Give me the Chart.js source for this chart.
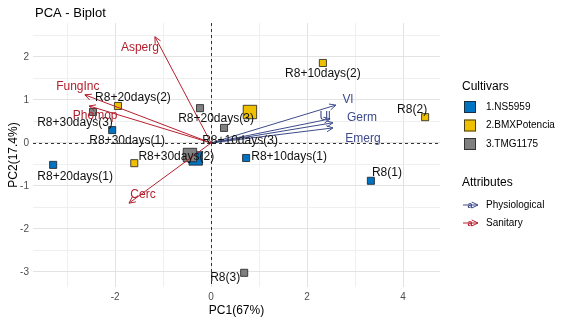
<!DOCTYPE html>
<html>
<head>
<meta charset="utf-8">
<script src="https://cdn.jsdelivr.net/npm/chart.js@4.4.1/dist/chart.umd.min.js"></script>
<style>
  html, body { margin: 0; padding: 0; background: #fff; }
  #wrap { width: 564px; height: 321px; }
</style>
</head>
<body>
<div id="wrap"><canvas id="biplot"></canvas></div>
<script>
// individuals (scores) per cultivar
const cultivars = ['1.NS5959', '2.BMXPotencia', '3.TMG1175'];
const sampleNames = [
  ['R8(1)', 'R8+10days(1)', 'R8+20days(1)', 'R8+30days(1)'],
  ['R8(2)', 'R8+10days(2)', 'R8+20days(2)', 'R8+30days(2)'],
  ['R8(3)', 'R8+10days(3)', 'R8+20days(3)', 'R8+30days(3)']
];
const pc1 = [
  [3.33, 0.73, -3.29, -2.06],
  [4.46, 2.33, -1.94, -1.60],
  [0.69, 0.27, -0.23, -2.46]
];
const pc2 = [
  [-0.88, -0.35, -0.51, 0.30],
  [0.60, 1.86, 0.86, -0.47],
  [-3.02, 0.35, 0.81, 0.72]
];
// group means (big squares)
const centerPC1 = [-0.32, 0.81, -0.44];
const centerPC2 = [-0.36, 0.72, -0.28];

// variables (arrows)
const physVars = ['Vl', 'Ul', 'Germ', 'Emerg'];
const physPC1 = [2.60, 2.48, 2.54, 2.54];
const physPC2 = [0.88, 0.56, 0.47, 0.35];
const sanVars = ['Asperg', 'FungInc', 'Phomop', 'Cerc'];
const sanPC1 = [-1.17, -2.63, -2.54, -1.71];
const sanPC2 = [2.47, 1.12, 0.86, -1.40];

const xTicks = [-3, -2, -1, 0, 1, 2, 3, 4];
const xTickLabels = ['', '-2', '', '0', '', '2', '', '4'];
const yTicks = [-3, -2.5, -2, -1.5, -1, -0.5, 0, 0.5, 1, 1.5, 2, 2.5];
const yTickLabels = ['-3', '', '-2', '', '-1', '', '0', '', '1', '', '2', ''];

// looks
const fillColors = ['#0073C2', '#EFC000', '#808080'];
const physColor = '#3D4B8A';
const sanColor = '#B5202E';
const FONT = '"Liberation Sans", Arial, sans-serif';

// where each text sits relative to its mark (px)
const sampleLabelShift = {
  'R8(1)': [16, -8], 'R8+10days(1)': [43, -1], 'R8+20days(1)': [22, 12], 'R8+30days(1)': [15, 11],
  'R8(2)': [-13, -7], 'R8+10days(2)': [0, 11], 'R8+20days(2)': [15, -8], 'R8+30days(2)': [42, -6],
  'R8(3)': [-19, 5], 'R8+10days(3)': [16, 13], 'R8+20days(3)': [16, 11], 'R8+30days(3)': [-18, 11]
};
const varLabelShift = {
  'Vl': [12, -5], 'Ul': [-5, -2], 'Germ': [29, -5], 'Emerg': [30, 11],
  'Asperg': [-15, 11], 'FungInc': [-7, -8], 'Phomop': [6, 10], 'Cerc': [14, -8]
};

const datasets = [];
cultivars.forEach((name, g) => {
  datasets.push({
    label: name,
    data: pc1[g].map((x, i) => ({ x: x, y: pc2[g][i] })),
    pointStyle: 'rect',
    pointRadius: 5,
    backgroundColor: fillColors[g],
    borderColor: 'rgba(30,30,30,0.8)',
    borderWidth: 1
  });
});
// means: grey first so the blue one sits on top, as in the original
[2, 1, 0].forEach(g => {
  datasets.push({
    label: cultivars[g] + ' mean',
    data: [{ x: centerPC1[g], y: centerPC2[g] }],
    pointStyle: 'rect',
    pointRadius: 9.5,
    backgroundColor: fillColors[g],
    borderColor: 'rgba(30,30,30,0.8)',
    borderWidth: 1
  });
});

function drawArrow(ctx, x0, y0, x1, y1, color) {
  const ang = Math.atan2(y1 - y0, x1 - x0);
  const head = 7;
  ctx.strokeStyle = color;
  ctx.lineWidth = 1;
  ctx.beginPath();
  ctx.moveTo(x0, y0);
  ctx.lineTo(x1, y1);
  ctx.moveTo(x1 - head * Math.cos(ang - 0.45), y1 - head * Math.sin(ang - 0.45));
  ctx.lineTo(x1, y1);
  ctx.lineTo(x1 - head * Math.cos(ang + 0.45), y1 - head * Math.sin(ang + 0.45));
  ctx.stroke();
}

const biplotPlugin = {
  id: 'biplot',
  beforeDatasetsDraw(chart) {
    const { ctx, chartArea: a, scales: { x, y } } = chart;
    ctx.save();
    ctx.strokeStyle = '#333';
    ctx.lineWidth = 1;
    ctx.setLineDash([3, 3]);
    const px = Math.round(x.getPixelForValue(0)) + 0.5;
    const py = Math.round(y.getPixelForValue(0)) + 0.5;
    ctx.beginPath();
    ctx.moveTo(px, a.top); ctx.lineTo(px, a.bottom);
    ctx.moveTo(a.left, py); ctx.lineTo(a.right, py);
    ctx.stroke();
    ctx.restore();
  },
  afterDatasetsDraw(chart) {
    const { ctx, scales: { x, y } } = chart;
    const ox = x.getPixelForValue(0), oy = y.getPixelForValue(0);
    ctx.save();
    ctx.font = '12px ' + FONT;
    ctx.textAlign = 'center';
    ctx.textBaseline = 'middle';

    // arrows
    physVars.forEach((v, i) => {
      drawArrow(ctx, ox, oy, x.getPixelForValue(physPC1[i]), y.getPixelForValue(physPC2[i]), physColor);
    });
    sanVars.forEach((v, i) => {
      drawArrow(ctx, ox, oy, x.getPixelForValue(sanPC1[i]), y.getPixelForValue(sanPC2[i]), sanColor);
    });

    // sample labels
    ctx.fillStyle = '#111';
    sampleNames.forEach((row, g) => {
      row.forEach((nm, i) => {
        const s = sampleLabelShift[nm];
        ctx.fillText(nm, x.getPixelForValue(pc1[g][i]) + s[0], y.getPixelForValue(pc2[g][i]) + s[1]);
      });
    });

    // variable labels
    ctx.fillStyle = physColor;
    physVars.forEach((v, i) => {
      const s = varLabelShift[v];
      ctx.fillText(v, x.getPixelForValue(physPC1[i]) + s[0], y.getPixelForValue(physPC2[i]) + s[1]);
    });
    ctx.fillStyle = sanColor;
    sanVars.forEach((v, i) => {
      const s = varLabelShift[v];
      ctx.fillText(v, x.getPixelForValue(sanPC1[i]) + s[0], y.getPixelForValue(sanPC2[i]) + s[1]);
    });
    ctx.restore();
  },
  afterDraw(chart) {
    const ctx = chart.ctx;
    ctx.save();
    ctx.textBaseline = 'middle';
    ctx.textAlign = 'left';
    // title
    ctx.fillStyle = '#000';
    ctx.font = '13px ' + FONT;
    ctx.fillText('PCA - Biplot', 35, 13);

    // legend: cultivars
    ctx.font = '12px ' + FONT;
    ctx.fillText('Cultivars', 462, 87);
    ctx.font = '10px ' + FONT;
    cultivars.forEach((c, i) => {
      const cy = 107 + i * 18.5;
      ctx.fillStyle = fillColors[i];
      ctx.fillRect(464, cy - 6, 12, 12);
      ctx.strokeStyle = 'rgba(30,30,30,0.8)';
      ctx.lineWidth = 1;
      ctx.strokeRect(464.5, cy - 5.5, 11, 11);
      ctx.fillStyle = '#000';
      ctx.fillText(c, 486, cy);
    });

    // legend: attributes
    ctx.font = '12px ' + FONT;
    ctx.fillText('Attributes', 462, 183);
    const items = [['Physiological', physColor], ['Sanitary', sanColor]];
    items.forEach((it, i) => {
      const cy = 205 + i * 18;
      drawArrow(ctx, 463, cy, 478, cy, it[1]);
      ctx.fillStyle = it[1];
      ctx.font = 'bold 9px ' + FONT;
      ctx.textAlign = 'center';
      ctx.fillText('a', 470, cy + 1);
      ctx.textAlign = 'left';
      ctx.font = '10px ' + FONT;
      ctx.fillStyle = '#000';
      ctx.fillText(it[0], 486, cy);
    });
    ctx.restore();
  }
};

const gridColor = (ctx, major) => major ? '#e3e3e3' : '#efefef';

new Chart(document.getElementById('biplot'), {
  type: 'scatter',
  data: { datasets: datasets },
  options: {
    responsive: true,
    maintainAspectRatio: false,
    animation: false,
    layout: { padding: { top: 23, right: 124, left: 0, bottom: 0 } },
    plugins: {
      legend: { display: false },
      tooltip: { enabled: false },
      title: { display: false }
    },
    scales: {
      x: {
        type: 'linear',
        min: -3.71,
        max: 4.77,
        afterBuildTicks: s => { s.ticks = xTicks.map(v => ({ value: v })); },
        afterFit: s => { s.height = 34; },
        ticks: {
          autoSkip: false,
          maxRotation: 0,
          padding: 4,
          color: '#4d4d4d',
          font: { family: FONT, size: 10 },
          callback: (v, i) => xTickLabels[i]
        },
        grid: {
          drawTicks: false,
          color: c => gridColor(c, xTickLabels[c.index] !== '')
        },
        border: { display: false },
        title: {
          display: true,
          text: 'PC1(67%)',
          color: '#000',
          font: { family: FONT, size: 12 },
          padding: { top: 0, bottom: 3 }
        }
      },
      y: {
        type: 'linear',
        min: -3.35,
        max: 2.79,
        afterBuildTicks: s => { s.ticks = yTicks.map(v => ({ value: v })); },
        afterFit: s => { s.width = 33; },
        ticks: {
          autoSkip: false,
          padding: 4,
          color: '#4d4d4d',
          font: { family: FONT, size: 10 },
          callback: (v, i) => yTickLabels[i]
        },
        grid: {
          drawTicks: false,
          color: c => gridColor(c, yTickLabels[c.index] !== '')
        },
        border: { display: false },
        title: {
          display: true,
          text: 'PC2(17.4%)',
          color: '#000',
          font: { family: FONT, size: 12 },
          padding: { top: 6, bottom: 0 }
        }
      }
    }
  },
  plugins: [biplotPlugin]
});
</script>
</body>
</html>
